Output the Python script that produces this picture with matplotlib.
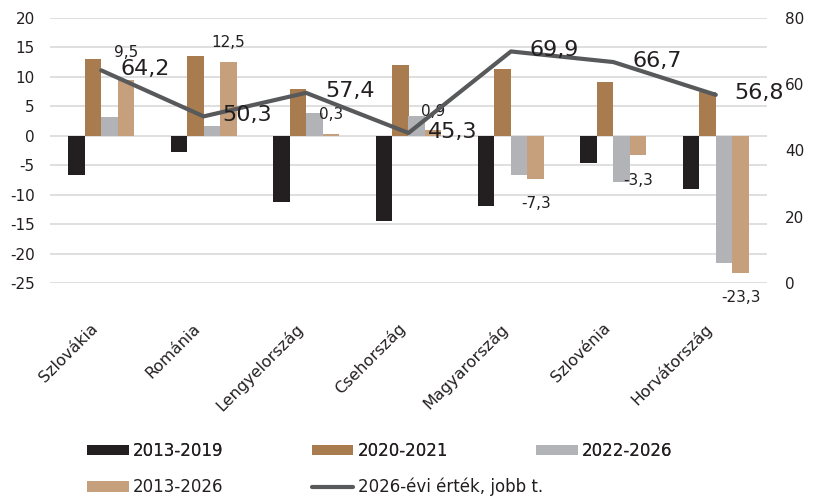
import numpy as np
import matplotlib
matplotlib.use("Agg")
import matplotlib.pyplot as plt
from matplotlib.patches import Patch
from matplotlib.lines import Line2D

plt.rcParams['font.family'] = ['DejaVu Sans']
plt.rcParams['axes.unicode_minus'] = False

# Data
countries = ['Szlovákia', 'Románia', 'Lengyelország', 'Csehország',
             'Magyarország', 'Szlovénia', 'Horvátország']
s_2013_2019 = [-6.6, -2.7, -11.3, -14.4, -11.9, -4.6, -9.1]
s_2020_2021 = [13.0, 13.5, 7.9, 12.0, 11.3, 9.1, 7.4]
s_2022_2026 = [3.2, 1.7, 3.8, 3.3, -6.6, -7.8, -21.6]
s_2013_2026 = [9.5, 12.5, 0.3, 0.9, -7.3, -3.3, -23.3]
value_2026 = [64.2, 50.3, 57.4, 45.3, 69.9, 66.7, 56.8]

series_names = ['2013-2019', '2020-2021', '2022-2026', '2013-2026']
line_name = '2026-évi érték, jobb t.'
colors = ['#231f20', '#a97c50', '#b1b3b6', '#c6a07c']
line_color = '#58595b'
text_color = '#231f20'
grid_color = '#d9d9d9'

# label offsets (points) for the 2013-2026 values
tan_label_dy = [20, 14, 14, 14, -18, -18, -18]

# Figure
fig = plt.figure(figsize=(8.14, 4.98), dpi=100)
ax = fig.add_axes([50/814, 1-283/498, 717/814, 265/498])
ax2 = ax.twinx()

x = np.arange(len(countries))
w = 0.161
series = [s_2013_2019, s_2020_2021, s_2022_2026, s_2013_2026]
for i, vals in enumerate(series):
    ax.bar(x + (i - 1.5) * w, vals, width=w, color=colors[i], zorder=2)

# Labels for the 2013-2026 bars
for xi, v, dy in zip(x, s_2013_2026, tan_label_dy):
    ax.annotate(f"{v:.1f}".replace('.', ','), (xi + 1.5 * w, v),
                xytext=(0, dy), textcoords='offset points',
                ha='center', va='center', fontsize=11, color=text_color)

# Line on right axis
ax2.plot(x, value_2026, color=line_color, linewidth=3, solid_capstyle='round', zorder=3)
for xi, v in zip(x, value_2026):
    ax2.annotate(f"{v:.1f}".replace('.', ','), (xi, v),
                 xytext=(31.5, 1), textcoords='offset points',
                 ha='center', va='center', fontsize=16, color=text_color)

# Axes
ax.set_xlim(-0.5, len(countries) - 0.5)
ax.set_ylim(-25, 20)
ax.set_yticks(np.arange(-25, 21, 5))
ax2.set_ylim(0, 80)
ax2.set_yticks(np.arange(0, 81, 20))
ax.yaxis.grid(True, color=grid_color, linewidth=1.2, zorder=0)
ax.set_axisbelow(True)

ax.set_xticks(x)
ax.set_xticklabels(countries, rotation=45, ha='right', va='top', fontsize=11.5, color=text_color)
ax.tick_params(axis='x', length=0, pad=27)
ax.tick_params(axis='y', length=0, pad=11, labelsize=11, labelcolor=text_color)
ax2.tick_params(axis='y', length=0, pad=13, labelsize=11, labelcolor=text_color)

for a in (ax, ax2):
    for sp in a.spines.values():
        sp.set_visible(False)

# Legend
h = [Patch(facecolor=c, edgecolor='none') for c in colors]
row1 = fig.legend(h[:3], series_names[:3], ncol=3, loc='center left',
                  bbox_to_anchor=(87/814, 1-451/498), frameon=False,
                  fontsize=12, handlelength=2.5, handleheight=0.6,
                  handletextpad=0.25, columnspacing=5.3,
                  borderpad=0, borderaxespad=0, labelcolor=text_color)
line_handle = Line2D([0], [0], color=line_color, linewidth=3, solid_capstyle='round')
row2 = fig.legend([h[3], line_handle], [series_names[3], line_name], ncol=2,
                  loc='center left', bbox_to_anchor=(87/814, 1-487/498),
                  frameon=False, fontsize=12, handlelength=2.5, handleheight=0.6,
                  handletextpad=0.25, columnspacing=5.3,
                  borderpad=0, borderaxespad=0, labelcolor=text_color)
fig.add_artist(row1)

fig.savefig('out.png', dpi=100)
